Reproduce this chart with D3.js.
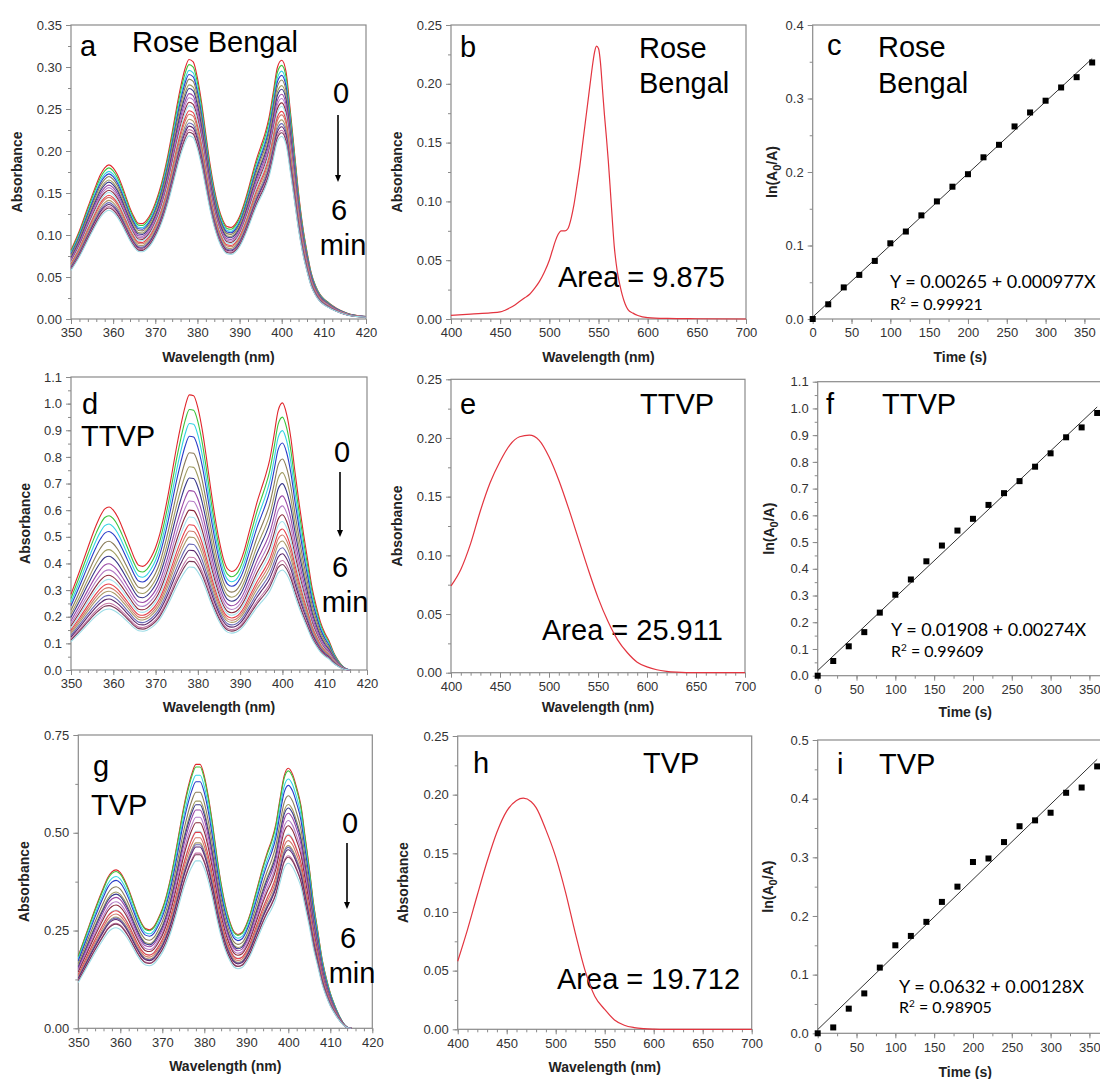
<!DOCTYPE html>
<html>
<head>
<meta charset="utf-8">
<script src="https://cdn.jsdelivr.net/npm/d3@7"></script>
<style>
  body { margin: 0; background: #fff; }
  svg { display: block; }
</style>
</head>
<body>
<svg id="fig" width="1100" height="1079"></svg>
<script>
// ---------------- data ----------------
// irradiation times (s) of the recorded scans
const timesS = [0, 20, 40, 60, 80, 100, 120, 140, 160, 180, 200, 220, 240, 260, 280, 300, 320, 340, 360];

// ln(A0/A) of the probe band vs time, one list per photosensitiser
const lnRoseBengal = [0, 0.020, 0.043, 0.060, 0.079, 0.103, 0.119, 0.141, 0.160, 0.180, 0.197, 0.220, 0.237, 0.262, 0.281, 0.297, 0.315, 0.329, 0.349];
const lnTTVP = [0, 0.055, 0.110, 0.163, 0.236, 0.303, 0.360, 0.428, 0.487, 0.543, 0.587, 0.639, 0.683, 0.728, 0.782, 0.832, 0.892, 0.929, 0.983];
const lnTVP = [0, 0.010, 0.042, 0.068, 0.112, 0.150, 0.166, 0.190, 0.224, 0.250, 0.292, 0.298, 0.326, 0.353, 0.363, 0.376, 0.410, 0.419, 0.455];

// linear fits [intercept, slope]
const fitRoseBengal = [0.00265, 0.000977];
const fitTTVP = [0.01908, 0.00274];
const fitTVP = [0.00632, 0.00128];

// probe spectrum at t = 0, [wavelength nm, absorbance]
const probeRoseBengal0 = [
  [350,0.082],[352,0.105],[354,0.133],[356,0.160],[357,0.172],[358,0.180],[359,0.1835],[360,0.180],
  [361,0.172],[362,0.160],[363,0.146],[364,0.132],[365,0.121],[366,0.114],[367,0.1135],[368,0.118],
  [369,0.126],[370,0.138],[371,0.153],[372,0.172],[373,0.195],[374,0.222],[375,0.250],[376,0.276],
  [377,0.297],[378,0.309],[379,0.306],[380,0.287],[381,0.257],[382,0.220],[383,0.184],[384,0.155],
  [385,0.133],[386,0.118],[387,0.110],[388,0.109],[389,0.113],[390,0.122],[391,0.136],[392,0.153],
  [393,0.172],[394,0.190],[395,0.205],[396,0.220],[397,0.240],[398,0.270],[399,0.300],[400,0.308],
  [401,0.295],[402,0.250],[403,0.200],[404,0.150],[405,0.110],[406,0.080],[407,0.055],[408,0.040],
  [409,0.030],[410,0.024],[411,0.020],[412,0.016],[414,0.010],[416,0.006],[418,0.004],[420,0.003]
];
const probeTTVP0 = [
  [350,0.284],[352,0.370],[354,0.460],[356,0.545],[357,0.580],[358,0.605],[359,0.612],[360,0.600],
  [361,0.575],[362,0.540],[363,0.500],[364,0.460],[365,0.420],[366,0.393],[367,0.389],[368,0.400],
  [369,0.425],[370,0.460],[371,0.510],[372,0.580],[373,0.660],[374,0.750],[375,0.840],[376,0.920],
  [377,0.990],[378,1.033],[379,1.030],[380,0.985],[381,0.905],[382,0.800],[383,0.685],[384,0.580],
  [385,0.490],[386,0.420],[387,0.380],[388,0.370],[389,0.378],[390,0.405],[391,0.450],[392,0.510],
  [393,0.570],[394,0.630],[395,0.680],[396,0.730],[397,0.790],[398,0.880],[399,0.975],[400,1.003],
  [401,0.960],[402,0.870],[403,0.740],[404,0.620],[405,0.510],[406,0.410],[407,0.310],[408,0.240],
  [409,0.180],[410,0.140],[411,0.110],[412,0.070],[413,0.040],[414,0.018],[415,0.005],[416,0.0]
];
const probeTVP0 = [
  [350,0.185],[352,0.245],[354,0.305],[356,0.360],[357,0.385],[358,0.400],[359,0.405],[360,0.398],
  [361,0.380],[362,0.355],[363,0.325],[364,0.295],[365,0.270],[366,0.255],[367,0.252],[368,0.260],
  [369,0.280],[370,0.305],[371,0.340],[372,0.385],[373,0.440],[374,0.500],[375,0.560],[376,0.610],
  [377,0.650],[378,0.675],[379,0.675],[380,0.645],[381,0.590],[382,0.520],[383,0.440],[384,0.370],
  [385,0.315],[386,0.275],[387,0.248],[388,0.240],[389,0.245],[390,0.265],[391,0.295],[392,0.335],
  [393,0.375],[394,0.415],[395,0.450],[396,0.480],[397,0.520],[398,0.585],[399,0.645],[400,0.665],
  [401,0.650],[402,0.615],[403,0.570],[404,0.490],[405,0.410],[406,0.320],[407,0.250],[408,0.180],
  [409,0.130],[410,0.090],[411,0.060],[412,0.035],[413,0.015],[414,0.003],[415,0.0]
];

// absorption spectra of the photosensitisers, [wavelength nm, absorbance]
const specRoseBengal = [
  [400,0.003],[420,0.0042],[440,0.0052],[450,0.006],[455,0.0075],[460,0.0095],[465,0.012],[470,0.015],
  [475,0.018],[480,0.021],[485,0.026],[490,0.032],[495,0.040],[500,0.050],[503,0.058],[506,0.066],
  [509,0.072],[512,0.075],[516,0.075],[519,0.077],[522,0.085],[525,0.097],[528,0.113],[531,0.130],
  [534,0.150],[537,0.170],[540,0.190],[543,0.210],[546,0.227],[548,0.232],[550,0.230],[552,0.218],
  [554,0.196],[556,0.174],[558,0.155],[560,0.134],[562,0.110],[564,0.085],[566,0.062],[568,0.047],
  [570,0.036],[572,0.028],[574,0.021],[577,0.013],[580,0.008],[585,0.005],[590,0.003],[600,0.0012],
  [620,0.0005],[650,0.0002],[700,0.0]
];
const specTTVP = [
  [400,0.074],[410,0.088],[420,0.110],[430,0.138],[440,0.162],[450,0.180],[460,0.194],[470,0.201],
  [480,0.2025],[490,0.198],[500,0.184],[510,0.164],[520,0.140],[530,0.114],[540,0.088],[550,0.064],
  [560,0.044],[570,0.028],[580,0.017],[590,0.009],[600,0.005],[610,0.0025],[620,0.0012],[630,0.0005],
  [640,0.0001],[650,0.0],[700,0.0]
];
const specTVP = [
  [400,0.058],[410,0.085],[420,0.1145],[430,0.143],[440,0.168],[450,0.186],[460,0.195],[467,0.197],
  [475,0.194],[480,0.189],[490,0.170],[500,0.147],[510,0.117],[520,0.082],[530,0.050],[540,0.028],
  [550,0.017],[560,0.008],[570,0.0035],[580,0.0015],[590,0.0006],[600,0.0002],[610,0.0],[700,0.0]
];

// axis tick labels
const probeWlTicks = [350, 360, 370, 380, 390, 400, 410, 420];
const specWlTicks = [400, 450, 500, 550, 600, 650, 700];
const timeTicks = [0, 50, 100, 150, 200, 250, 300, 350];
const absTicksA = [0, 0.05, 0.10, 0.15, 0.20, 0.25, 0.30, 0.35];
const absTicksD = [0, 0.1, 0.2, 0.3, 0.4, 0.5, 0.6, 0.7, 0.8, 0.9, 1.0, 1.1];
const absTicksG = [0, 0.25, 0.50, 0.75];
const absTicksSpec = [0, 0.05, 0.10, 0.15, 0.20, 0.25];
const lnTicksC = [0, 0.1, 0.2, 0.3, 0.4];
const lnTicksF = [0, 0.1, 0.2, 0.3, 0.4, 0.5, 0.6, 0.7, 0.8, 0.9, 1.0, 1.1];
const lnTicksI = [0, 0.1, 0.2, 0.3, 0.4, 0.5];

// scan colours, first scan to last
const scanColors = ['#e0262b','#3cc43c','#33d4e4','#2a3cc8','#8a7c5a','#a09c62','#38388a','#9a48a6',
  '#b47cc6','#8a2a3c','#a6e4ee','#e6404a','#d07868','#aa9a68','#6a6ab6','#5c2a6c','#c878a8','#7a3a58','#9cdce6'];

// ---------------- drawing ----------------
const svg = d3.select('#fig');
const TICK_FONT = 'Liberation Sans, Arial, sans-serif';
const BIG_FONT = 'Liberation Sans, Arial, sans-serif';
const EQ_FONT = 'Lato, Open Sans, sans-serif';

function range(a, b, step) {
  const out = [];
  for (let v = a; v <= b + step * 1e-6; v += step) out.push(+v.toFixed(6));
  return out;
}

function makePanel(cfg) {
  const x = d3.scaleLinear().domain(cfg.xDom).range([cfg.x0, cfg.x0 + cfg.w]);
  const y = d3.scaleLinear().domain(cfg.yDom).range([cfg.y0 + cfg.h, cfg.y0]);
  const g = svg.append('g');
  const bottom = cfg.y0 + cfg.h;

  const styleAxis = sel => {
    sel.select('.domain').remove();
    sel.selectAll('line').attr('stroke', '#8a8a8a').attr('stroke-width', 1);
    sel.selectAll('text').attr('fill', '#333').attr('font-family', TICK_FONT).attr('font-size', 13);
  };

  // minor ticks
  const xMinor = range(cfg.xDom[0], cfg.xTicks[cfg.xTicks.length - 1], cfg.xMinor);
  g.append('g').attr('transform', `translate(0,${bottom})`)
    .call(d3.axisBottom(x).tickValues(xMinor).tickSize(3).tickFormat(''))
    .call(styleAxis);
  const yMinor = range(cfg.yDom[0], cfg.yDom[1], cfg.yMinor);
  g.append('g').attr('transform', `translate(${cfg.x0},0)`)
    .call(d3.axisLeft(y).tickValues(yMinor).tickSize(3).tickFormat(''))
    .call(styleAxis);

  // major ticks with labels
  g.append('g').attr('transform', `translate(0,${bottom})`)
    .call(d3.axisBottom(x).tickValues(cfg.xTicks).tickSize(5).tickPadding(4).tickFormat(d3.format('d')))
    .call(styleAxis);
  g.append('g').attr('transform', `translate(${cfg.x0},0)`)
    .call(d3.axisLeft(y).tickValues(cfg.yTicks).tickSize(5).tickPadding(4).tickFormat(d3.format(cfg.yFmt)))
    .call(styleAxis);

  // frame
  g.append('rect')
    .attr('x', cfg.x0).attr('y', cfg.y0).attr('width', cfg.w).attr('height', cfg.h)
    .attr('fill', 'none').attr('stroke', '#8a8a8a').attr('stroke-width', 1.2);

  // axis titles
  g.append('text')
    .attr('x', cfg.x0 + cfg.w / 2).attr('y', cfg.xTitleY)
    .attr('text-anchor', 'middle').attr('font-family', TICK_FONT).attr('font-weight', 'bold')
    .attr('font-size', 14).attr('fill', '#222')
    .text(cfg.xTitle);
  const yt = g.append('text')
    .attr('transform', `translate(${cfg.yTitleX},${cfg.y0 + cfg.h / 2}) rotate(-90)`)
    .attr('dy', '0.35em')
    .attr('text-anchor', 'middle').attr('font-family', TICK_FONT).attr('font-weight', 'bold')
    .attr('font-size', 14).attr('fill', '#222');
  if (cfg.yTitle === 'ln') {
    yt.append('tspan').text('ln(A');
    yt.append('tspan').attr('dy', 4).attr('font-size', 11).text('0');
    yt.append('tspan').attr('dy', -4).text('/A)');
  } else {
    yt.text(cfg.yTitle);
  }
  return { g, x, y };
}

function bigText(g, t, x, y, anchor) {
  g.append('text').attr('x', x).attr('y', y)
    .attr('text-anchor', anchor || 'start')
    .attr('font-family', BIG_FONT).attr('font-size', 29).attr('fill', '#000')
    .text(t);
}

function timeArrow(g, a) {
  bigText(g, '0', a.x0, a.yZero, 'middle');
  g.append('line').attr('x1', a.xa).attr('x2', a.xa).attr('y1', a.ya1).attr('y2', a.ya2 - 5)
    .attr('stroke', '#000').attr('stroke-width', 1.6);
  g.append('path')
    .attr('d', `M${a.xa - 3},${a.ya2 - 7} L${a.xa + 3},${a.ya2 - 7} L${a.xa},${a.ya2} Z`)
    .attr('fill', '#000');
  bigText(g, '6', a.x6, a.ySix, 'middle');
  bigText(g, 'min', a.xMin, a.yMin, 'middle');
}

function drawScans(p, base, lnRatio) {
  // every scan is the initial spectrum attenuated by its measured ln(A0/A)
  const line = d3.line().x(d => p.x(d[0])).y(d => p.y(d[1])).curve(d3.curveMonotoneX);
  lnRatio.forEach((k, i) => {
    const scan = base.map(([w, a]) => [w, a * Math.exp(-k)]);
    p.g.append('path').attr('d', line(scan))
      .attr('fill', 'none').attr('stroke', scanColors[i]).attr('stroke-width', 1.1);
  });
}

function drawSpectrum(p, data) {
  const line = d3.line().x(d => p.x(d[0])).y(d => p.y(d[1])).curve(d3.curveMonotoneX);
  p.g.append('path').attr('d', line(data))
    .attr('fill', 'none').attr('stroke', '#e3343f').attr('stroke-width', 1.2);
}

function drawKinetics(p, lnRatio, fit, eq, r2, ex, ey, ry) {
  p.g.append('text').attr('x', ex).attr('y', ey)
    .attr('font-family', EQ_FONT).attr('font-size', 18).attr('fill', '#000').text(eq);
  const r = p.g.append('text').attr('x', ex).attr('y', ry)
    .attr('font-family', EQ_FONT).attr('font-size', 16).attr('fill', '#000');
  r.append('tspan').text('R');
  r.append('tspan').attr('dy', -6).attr('font-size', 10).text('2');
  r.append('tspan').attr('dy', 6).text(' = ' + r2);

  p.g.append('line')
    .attr('x1', p.x(0)).attr('y1', p.y(fit[0]))
    .attr('x2', p.x(360)).attr('y2', p.y(fit[0] + fit[1] * 360))
    .attr('stroke', '#333').attr('stroke-width', 1);
  p.g.selectAll(null).data(timesS.map((t, i) => [t, lnRatio[i]])).enter()
    .append('rect')
    .attr('x', d => p.x(d[0]) - 3).attr('y', d => p.y(d[1]) - 3)
    .attr('width', 6).attr('height', 6).attr('fill', '#000');
}

// ---- row 1: Rose Bengal ----
const pa = makePanel({ x0: 71, y0: 25, w: 295, h: 294, xDom: [350, 420], yDom: [0, 0.35],
  xTicks: probeWlTicks, xMinor: 2, yTicks: absTicksA, yMinor: 0.025, yFmt: '.2f',
  xTitle: 'Wavelength (nm)', xTitleY: 362, yTitle: 'Absorbance', yTitleX: 17 });
bigText(pa.g, 'a', 80, 56);
bigText(pa.g, 'Rose Bengal', 132, 52);
timeArrow(pa.g, { x0: 341, yZero: 103, xa: 338, ya1: 115, ya2: 182, x6: 339, ySix: 220, xMin: 343, yMin: 255 });
drawScans(pa, probeRoseBengal0, lnRoseBengal);

const pb = makePanel({ x0: 451, y0: 25, w: 295, h: 294, xDom: [400, 700], yDom: [0, 0.25],
  xTicks: specWlTicks, xMinor: 10, yTicks: absTicksSpec, yMinor: 0.025, yFmt: '.2f',
  xTitle: 'Wavelength (nm)', xTitleY: 362, yTitle: 'Absorbance', yTitleX: 397 });
bigText(pb.g, 'b', 460, 57);
bigText(pb.g, 'Rose', 639, 58);
bigText(pb.g, 'Bengal', 639, 93);
bigText(pb.g, 'Area = 9.875', 558, 287);
drawSpectrum(pb, specRoseBengal);

const pc = makePanel({ x0: 812.7, y0: 25, w: 295, h: 294, xDom: [0, 380], yDom: [0, 0.4],
  xTicks: timeTicks, xMinor: 25, yTicks: lnTicksC, yMinor: 0.05, yFmt: '.1f',
  xTitle: 'Time (s)', xTitleY: 362, yTitle: 'ln', yTitleX: 772 });
bigText(pc.g, 'c', 827, 55);
bigText(pc.g, 'Rose', 878, 57);
bigText(pc.g, 'Bengal', 878, 93);
drawKinetics(pc, lnRoseBengal, fitRoseBengal, 'Y = 0.00265 + 0.000977X', '0.99921', 890, 288, 310);

// ---- row 2: TTVP ----
const pd = makePanel({ x0: 71, y0: 377, w: 296, h: 293, xDom: [350, 420], yDom: [0, 1.1],
  xTicks: probeWlTicks, xMinor: 2, yTicks: absTicksD, yMinor: 0.05, yFmt: '.1f',
  xTitle: 'Wavelength (nm)', xTitleY: 712, yTitle: 'Absorbance', yTitleX: 25 });
bigText(pd.g, 'd', 82, 414);
bigText(pd.g, 'TTVP', 81, 446);
timeArrow(pd.g, { x0: 342, yZero: 462, xa: 340, ya1: 472, ya2: 537, x6: 340, ySix: 577, xMin: 345, yMin: 612 });
drawScans(pd, probeTTVP0, lnTTVP);

const pe = makePanel({ x0: 451, y0: 379.3, w: 294, h: 293.4, xDom: [400, 700], yDom: [0, 0.25],
  xTicks: specWlTicks, xMinor: 10, yTicks: absTicksSpec, yMinor: 0.025, yFmt: '.2f',
  xTitle: 'Wavelength (nm)', xTitleY: 712, yTitle: 'Absorbance', yTitleX: 397 });
bigText(pe.g, 'e', 460, 414);
bigText(pe.g, 'TTVP', 640, 414);
bigText(pe.g, 'Area = 25.911', 542, 640);
drawSpectrum(pe, specTTVP);

const pf = makePanel({ x0: 817.7, y0: 381.7, w: 295, h: 294, xDom: [0, 380], yDom: [0, 1.1],
  xTicks: timeTicks, xMinor: 25, yTicks: lnTicksF, yMinor: 0.05, yFmt: '.1f',
  xTitle: 'Time (s)', xTitleY: 717, yTitle: 'ln', yTitleX: 769 });
bigText(pf.g, 'f', 826, 414);
bigText(pf.g, 'TTVP', 882, 414);
drawKinetics(pf, lnTTVP, fitTTVP, 'Y = 0.01908 + 0.00274X', '0.99609', 891, 636, 657);

// ---- row 3: TVP ----
const pg = makePanel({ x0: 78.3, y0: 735, w: 294, h: 293.3, xDom: [350, 420], yDom: [0, 0.75],
  xTicks: probeWlTicks, xMinor: 2, yTicks: absTicksG, yMinor: 0.125, yFmt: '.2f',
  xTitle: 'Wavelength (nm)', xTitleY: 1071, yTitle: 'Absorbance', yTitleX: 24 });
bigText(pg.g, 'g', 93, 776);
bigText(pg.g, 'TVP', 91, 815);
timeArrow(pg.g, { x0: 350, yZero: 833, xa: 347, ya1: 843, ya2: 909, x6: 348, ySix: 948, xMin: 352, yMin: 983 });
drawScans(pg, probeTVP0, lnTVP);

const ph = makePanel({ x0: 457.7, y0: 736, w: 294, h: 293.3, xDom: [400, 700], yDom: [0, 0.25],
  xTicks: specWlTicks, xMinor: 10, yTicks: absTicksSpec, yMinor: 0.025, yFmt: '.2f',
  xTitle: 'Wavelength (nm)', xTitleY: 1072, yTitle: 'Absorbance', yTitleX: 403 });
bigText(ph.g, 'h', 473, 773);
bigText(ph.g, 'TVP', 643, 773);
bigText(ph.g, 'Area = 19.712', 557, 989);
drawSpectrum(ph, specTVP);

const pi = makePanel({ x0: 817.7, y0: 740, w: 295, h: 293.3, xDom: [0, 380], yDom: [0, 0.5],
  xTicks: timeTicks, xMinor: 25, yTicks: lnTicksI, yMinor: 0.05, yFmt: '.1f',
  xTitle: 'Time (s)', xTitleY: 1077, yTitle: 'ln', yTitleX: 768 });
bigText(pi.g, 'i', 837, 774);
bigText(pi.g, 'TVP', 879, 774);
drawKinetics(pi, lnTVP, fitTVP, 'Y = 0.0632 + 0.00128X', '0.98905', 899, 993, 1013);
</script>
</body>
</html>
